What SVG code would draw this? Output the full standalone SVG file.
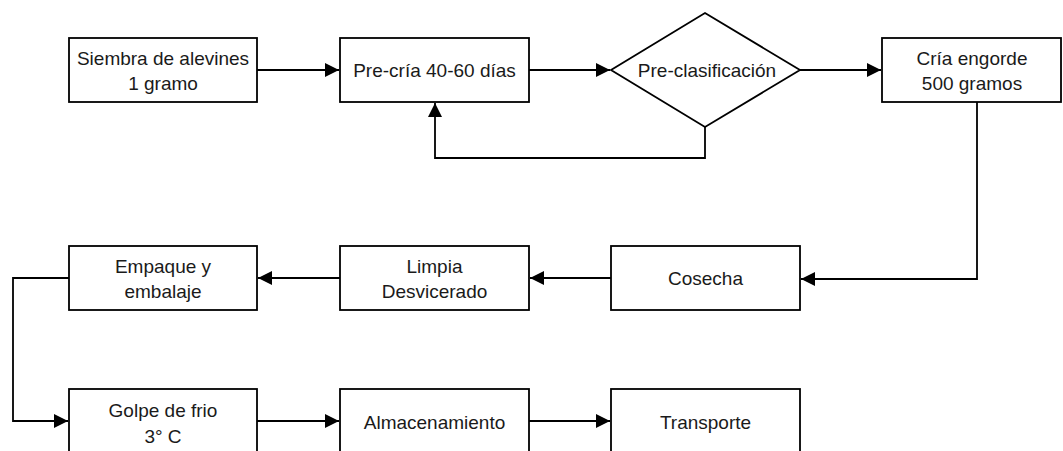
<svg xmlns="http://www.w3.org/2000/svg" width="1063" height="451" viewBox="0 0 1063 451">
  <style>
    .box { fill: #ffffff; stroke: #000000; stroke-width: 1.8; }
    .link { fill: none; stroke: #000000; stroke-width: 1.8; }
    .lbl { font-family: "Liberation Sans", Arial, sans-serif; font-size: 19px; fill: #1a1a1a; text-anchor: middle; }
  </style>
  <defs>
    <marker id="arrow" viewBox="0 0 14 14" refX="14" refY="7" markerWidth="14" markerHeight="14" markerUnits="userSpaceOnUse" orient="auto">
      <path d="M0,0 L14,7 L0,14 Z" fill="#000000"/>
    </marker>
  </defs>
  <rect width="1063" height="451" fill="#ffffff"/>

  <!-- connectors -->
  <g id="connectors">
    <path class="link" d="M257,70 H339" marker-end="url(#arrow)"/>
    <path class="link" d="M529,70 H610" marker-end="url(#arrow)"/>
    <path class="link" d="M705,127 V158 H435 V103" marker-end="url(#arrow)"/>
    <path class="link" d="M800,70 H881" marker-end="url(#arrow)"/>
    <path class="link" d="M977,102 V279 H801" marker-end="url(#arrow)"/>
    <path class="link" d="M611,278 H530" marker-end="url(#arrow)"/>
    <path class="link" d="M340,278 H258" marker-end="url(#arrow)"/>
    <path class="link" d="M69,278 H13 V421 H68" marker-end="url(#arrow)"/>
    <path class="link" d="M257,421 H339" marker-end="url(#arrow)"/>
    <path class="link" d="M529,421 H610" marker-end="url(#arrow)"/>
  </g>

  <!-- top row -->
  <g id="siembra">
    <rect class="box" x="69" y="38" width="188" height="64"/>
    <text class="lbl" x="163" y="65">Siembra de alevines</text>
    <text class="lbl" x="163" y="90">1 gramo</text>
  </g>
  <g id="precria">
    <rect class="box" x="340" y="38" width="189" height="64"/>
    <text class="lbl" x="434.5" y="77">Pre-cría 40-60 días</text>
  </g>
  <g id="preclasificacion">
    <polygon class="box" points="705,13 800,70 705,127 611,70"/>
    <text class="lbl" x="707" y="77">Pre-clasificación</text>
  </g>
  <g id="cria-engorde">
    <rect class="box" x="882" y="38" width="179" height="64"/>
    <text class="lbl" x="972" y="65">Cría engorde</text>
    <text class="lbl" x="972" y="90">500 gramos</text>
  </g>

  <!-- middle row -->
  <g id="empaque">
    <rect class="box" x="69" y="246" width="188" height="64"/>
    <text class="lbl" x="163" y="273">Empaque y</text>
    <text class="lbl" x="163" y="298">embalaje</text>
  </g>
  <g id="limpia">
    <rect class="box" x="340" y="246" width="189" height="64"/>
    <text class="lbl" x="434.5" y="273">Limpia</text>
    <text class="lbl" x="434.5" y="298">Desvicerado</text>
  </g>
  <g id="cosecha">
    <rect class="box" x="611" y="246" width="189" height="64"/>
    <text class="lbl" x="705.5" y="285">Cosecha</text>
  </g>

  <!-- bottom row -->
  <g id="golpe-frio">
    <rect class="box" x="69" y="389" width="188" height="64"/>
    <text class="lbl" x="163" y="417">Golpe de frio</text>
    <text class="lbl" x="163" y="443">3° C</text>
  </g>
  <g id="almacenamiento">
    <rect class="box" x="340" y="389" width="189" height="64"/>
    <text class="lbl" x="434.5" y="429">Almacenamiento</text>
  </g>
  <g id="transporte">
    <rect class="box" x="611" y="389" width="189" height="64"/>
    <text class="lbl" x="705.5" y="429">Transporte</text>
  </g>
</svg>
